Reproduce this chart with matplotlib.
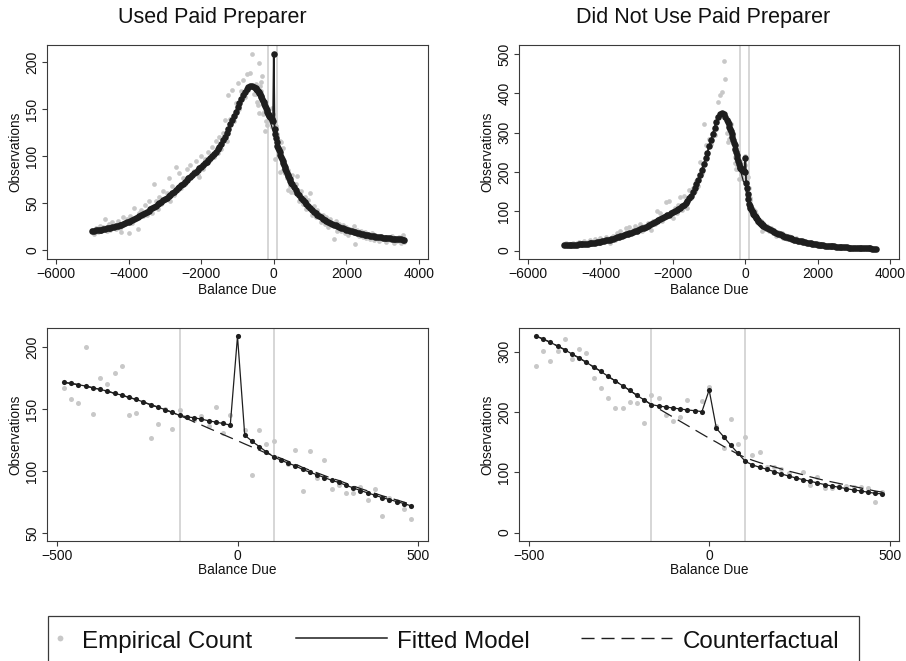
import numpy as np
import matplotlib
matplotlib.use("Agg")
import matplotlib.pyplot as plt
from matplotlib.lines import Line2D
from matplotlib.patches import Rectangle

plt.rcParams['font.family'] = ['Liberation Sans', 'DejaVu Sans']

# ---------------- data ----------------
titles = ["Used Paid Preparer", "Did Not Use Paid Preparer"]
legend_labels = ["Empirical Count", "Fitted Model", "Counterfactual"]
x_label = "Balance Due"
y_label = "Observations"
excluded_region = [-160, 100]

bins_outer_left = np.arange(-5000, -499, 50)     # -5000 .. -500
bins_inner = np.arange(-480, 481, 20)            # -480 .. 480
bins_outer_right = np.arange(500, 3601, 50)      # 500 .. 3600

# --- Used Paid Preparer ---
paid_fit_left = [20.5, 20.8, 21.1, 21.4, 21.7, 22.0, 22.4, 22.8, 23.2, 23.6,
                 24.0, 24.5, 25.0, 25.6, 26.2, 26.8, 27.4, 28.1, 28.8, 29.6,
                 30.5, 31.4, 32.4, 33.4, 34.4, 35.5, 36.6, 37.7, 38.8, 39.9,
                 41.0, 42.3, 43.6, 44.9, 46.2, 47.5, 48.8, 50.1, 51.5, 53.0,
                 54.5, 56.1, 57.7, 59.3, 60.9, 62.5, 64.1, 65.8, 67.5, 69.2,
                 71.0, 72.8, 74.6, 76.4, 78.2, 80.0, 81.8, 83.6, 85.4, 87.2,
                 89.0, 90.8, 92.6, 94.4, 96.2, 98.0, 100.0, 102.3, 104.8, 107.4,
                 110.2, 113.5, 117.0, 120.8, 125.0, 129.5, 134.0, 138.5, 143.0, 147.5,
                 152.0, 156.5, 161.0, 165.0, 168.5, 171.5, 173.8, 175.0, 175.0, 174.0,
                 172.5]
paid_emp_left = [22, 17, 24, 19, 26, 21, 25, 33, 20, 28,
                 22, 30, 27, 23, 31, 24, 19, 35, 28, 33,
                 18, 36, 29, 45, 34, 23, 40, 43, 36, 48,
                 38, 52, 45, 40, 70, 52, 44, 57, 49, 63,
                 55, 61, 77, 52, 68, 59, 89, 64, 82, 66,
                 77, 70, 86, 78, 91, 79, 84, 95, 80, 78,
                 100, 86, 97, 93, 105, 96, 110, 99, 116, 103,
                 121, 108, 125, 139, 116, 165, 140, 171, 137, 157,
                 178, 150, 169, 181, 163, 187, 170, 189, 209, 166,
                 177]
paid_fit_right = [70.0, 66.9, 64.0, 61.2, 58.6, 56.1, 53.7, 51.4, 49.1, 46.9,
                  44.8, 42.9, 41.1, 39.4, 37.8, 36.3, 34.9, 33.6, 32.4, 31.3,
                  30.2, 29.2, 28.2, 27.3, 26.4, 25.5, 24.7, 23.9, 23.2, 22.5,
                  21.8, 21.2, 20.6, 20.0, 19.5, 19.0, 18.5, 18.0, 17.5, 17.1,
                  16.7, 16.3, 15.9, 15.5, 15.2, 14.9, 14.6, 14.3, 14.0, 13.7,
                  13.4, 13.2, 13.0, 12.8, 12.6, 12.4, 12.2, 12.0, 11.8, 11.7,
                  11.5, 11.4, 11.3]
paid_emp_right = [80, 62, 71, 79, 52, 63, 49, 57, 44, 54,
                  61, 38, 47, 35, 43, 39, 30, 37, 28, 35,
                  25, 33, 27, 12, 31, 21, 28, 20, 27, 18,
                  25, 16, 23, 19, 26, 7, 22, 15, 20, 14,
                  19, 13, 17, 12, 18, 11, 16, 14, 10, 15,
                  12, 14, 9, 13, 11, 15, 8, 12, 10, 14,
                  8, 16, 9]
paid_fit_inner = [171.5, 170.6, 169.6, 168.5, 167.1, 165.8, 164.4, 162.6, 161.2, 159.3,
                  157.7, 155.6, 153.4, 151.5, 149.4, 147.2, 144.8, 143.7, 142.9, 141.8,
                  140.5, 139.4, 138.3, 137.0, 208.6, 128.9, 124.0, 119.7, 115.4, 111.4,
                  108.7, 106.3, 104.1, 101.2, 99.0, 96.9, 94.7, 92.5, 90.7, 88.5,
                  86.3, 84.2, 82.3, 80.4, 78.5, 76.9, 75.3, 73.7, 71.8]
paid_cf_inner = [171.5, 170.6, 169.6, 168.5, 167.1, 165.8, 164.4, 162.6, 161.2, 159.3,
                 157.7, 155.6, 153.4, 151.5, 149.4, 147.2, 144.8, 142.2, 139.6, 137.1,
                 134.5, 132.0, 129.4, 126.9, 124.4, 121.8, 119.3, 116.8, 114.3, 112.5,
                 110.2, 107.8, 105.6, 102.8, 100.6, 98.5, 96.3, 94.1, 92.3, 90.1,
                 87.9, 85.8, 83.9, 81.9, 80.0, 78.3, 76.6, 74.9, 72.9]
paid_emp_inner = [166.6, 157.7, 154.8, 199.7, 145.6, 174.7, 169.8, 178.7, 184.9, 144.8,
                  146.7, 155.5, 126.8, 137.8, 150.0, 133.8, 148.8, 143.5, 141.0, 144.5,
                  136.5, 151.8, 130.8, 145.0, 209.0, 132.7, 96.9, 132.7, 121.6, 123.8,
                  109.0, 106.0, 116.5, 83.7, 115.7, 94.5, 108.7, 85.8, 88.5, 81.8,
                  82.6, 87.2, 76.7, 85.6, 63.8, 78.3, 76.0, 68.9, 61.6]

# --- Did Not Use Paid Preparer ---
self_fit_left = [13.5, 13.7, 13.9, 14.1, 14.3, 14.6, 14.9, 15.2, 15.5, 15.8,
                 16.2, 16.7, 17.2, 17.7, 18.3, 18.9, 19.5, 20.2, 20.9, 21.7,
                 22.5, 23.5, 24.5, 25.6, 26.8, 28.0, 29.3, 30.6, 32.0, 33.5,
                 35.0, 36.5, 38.0, 39.5, 41.0, 42.6, 44.2, 45.8, 47.4, 49.0,
                 50.7, 52.6, 54.5, 56.5, 58.5, 60.6, 62.8, 65.0, 67.3, 69.6,
                 72.0, 74.4, 76.8, 79.2, 81.7, 84.2, 86.7, 89.2, 91.7, 94.3,
                 97.0, 99.8, 102.7, 105.7, 108.8, 112.2, 116.0, 120.5, 126.0, 132.5,
                 140.0, 148.5, 158.0, 168.5, 180.0, 192.5, 206.0, 220.0, 234.5, 249.0,
                 265.0, 281.0, 297.0, 313.0, 328.0, 340.0, 347.5, 350.0, 347.0, 340.0,
                 332.0]
self_emp_left = [15, 19, 12, 17, 14, 20, 13, 18, 22, 14,
                 19, 24, 16, 21, 26, 17, 23, 29, 19, 25,
                 31, 21, 28, 35, 24, 18, 33, 38, 27, 44,
                 31, 49, 36, 42, 57, 39, 60, 44, 52, 62,
                 46, 57, 68, 51, 63, 58, 70, 61, 52, 75,
                 68, 101, 79, 96, 74, 88, 124, 92, 126, 94,
                 84, 108, 96, 115, 137, 104, 140, 112, 107, 155,
                 133, 160, 152, 178, 165, 226, 197, 321, 268, 243,
                 283, 270, 300, 294, 309, 378, 395, 404, 481, 437,
                 300]
self_fit_right = [63.0, 60.0, 57.2, 54.5, 52.0, 49.6, 47.3, 45.1, 43.0, 41.0,
                  39.1, 37.3, 35.6, 33.9, 32.3, 30.8, 29.4, 28.0, 26.7, 25.5,
                  24.3, 23.2, 22.1, 21.1, 20.1, 19.2, 18.3, 17.5, 16.7, 16.0,
                  15.3, 14.6, 14.0, 13.4, 12.8, 12.3, 11.8, 11.3, 10.8, 10.4,
                  10.0, 9.6, 9.2, 8.9, 8.6, 8.3, 8.0, 7.7, 7.5, 7.2,
                  7.0, 6.8, 6.6, 6.4, 6.2, 6.0, 5.8, 5.7, 5.5, 5.4,
                  5.2, 5.1, 5.0]
self_emp_right = [70, 55, 62, 50, 58, 44, 52, 38, 47, 36,
                  44, 33, 40, 29, 36, 27, 33, 25, 31, 22,
                  28, 20, 25, 19, 23, 16, 21, 15, 19, 13,
                  18, 12, 17, 11, 15, 10, 14, 9, 13, 8,
                  12, 9, 11, 7, 10, 6, 10, 6, 9, 5,
                  8, 6, 8, 4, 7, 5, 7, 4, 6, 3,
                  6, 4, 5]
self_fit_inner = [326.0, 321.0, 315.5, 309.4, 303.3, 296.1, 289.5, 282.3, 274.6, 267.4,
                  259.1, 251.4, 243.6, 235.9, 227.6, 219.9, 212.2, 210.0, 208.3, 206.6,
                  205.0, 203.3, 202.2, 200.6, 236.5, 172.9, 159.1, 144.8, 131.5, 118.2,
                  112.2, 108.3, 105.0, 101.1, 97.2, 93.9, 90.6, 87.8, 85.1, 82.3,
                  79.6, 77.3, 75.1, 72.9, 70.7, 69.1, 66.9, 65.2, 64.1]
self_cf_inner = [326.0, 321.0, 315.5, 309.4, 303.3, 296.1, 289.5, 282.3, 274.6, 267.4,
                 259.1, 251.4, 243.6, 235.9, 227.6, 219.9, 212.2, 205.5, 198.5, 191.5,
                 184.5, 177.5, 170.5, 163.5, 156.5, 150.0, 143.0, 136.5, 130.0, 124.5,
                 120.0, 116.0, 112.5, 109.0, 105.5, 102.0, 99.0, 96.0, 92.5, 89.5,
                 86.5, 84.0, 81.5, 79.0, 76.5, 74.0, 71.5, 69.0, 67.0]
self_emp_inner = [276.8, 301.1, 284.0, 301.7, 321.0, 287.8, 305.0, 297.8, 256.9, 239.2,
                  223.8, 207.2, 207.2, 216.6, 214.4, 181.8, 228.7, 223.8, 194.5, 184.5,
                  191.7, 219.9, 202.0, 218.8, 240.9, 176.0, 140.3, 187.8, 147.0, 158.6,
                  129.3, 133.7, 108.0, 109.4, 105.0, 98.3, 91.0, 101.1, 79.0, 92.8,
                  73.5, 74.6, 78.0, 77.9, 76.2, 76.0, 74.6, 50.8, 68.0]

# ---------------- style ----------------
GREY = "#c8c8c8"
VLINE = "#cfcfcf"
DARK = "#1e1e1e"
FRAME = "#3a3a3a"
W, H = 906, 661

fig = plt.figure(figsize=(W / 100, H / 100), dpi=100)


def add_ax(l, t, r, b):
    return fig.add_axes([l / W, 1 - b / H, (r - l) / W, (b - t) / H])


def style(ax, xlim, ylim, xticks, yticks):
    ax.set_xlim(*xlim)
    ax.set_ylim(*ylim)
    ax.set_xticks(xticks)
    ax.set_yticks(yticks)
    for s in ax.spines.values():
        s.set_color(FRAME)
        s.set_linewidth(0.8)
    ax.tick_params(axis='both', direction='out', length=3.4, width=0.8,
                   color=FRAME, labelsize=10, labelcolor="#111111")
    ax.tick_params(axis='x', pad=2.0)
    ax.tick_params(axis='y', pad=2.3, labelrotation=90)
    plt.setp(ax.get_yticklabels(), va='center')
    ax.set_xlabel(x_label, fontsize=9.8, color="#111111", va='center')
    ax.set_ylabel(y_label, fontsize=9.8, color="#111111", va='center')


def draw(ax, x, emp, fit, cf, ms_fit, ms_emp, lw_fit):
    for xv in excluded_region:
        ax.axvline(xv, color=VLINE, lw=1.2, zorder=1)
    ax.plot(x, emp, 'o', color=GREY, ms=ms_emp, mec='none', zorder=2)
    ax.plot(x, cf, color=DARK, lw=0.9, dashes=(11, 5.5), zorder=3)
    ax.plot(x, fit, '-o', color=DARK, lw=lw_fit, ms=ms_fit, mec='none', zorder=4)


x_top = np.concatenate([bins_outer_left, bins_inner, bins_outer_right])

panels = [
    (paid_fit_left, paid_emp_left, paid_fit_inner, paid_cf_inner, paid_emp_inner,
     paid_fit_right, paid_emp_right),
    (self_fit_left, self_emp_left, self_fit_inner, self_cf_inner, self_emp_inner,
     self_fit_right, self_emp_right),
]

top_boxes = [(47.3, 44.7, 427.7, 259.3), (519.3, 44.7, 899, 259.2)]
top_ylims = [(-9.6, 218.7), (-22, 523.7)]
top_yticks = [[0, 50, 100, 150, 200], [0, 100, 200, 300, 400, 500]]
bot_boxes = [(47.3, 327.7, 427.7, 541.2), (519.3, 327.7, 899, 541.2)]
bot_ylims = [(43.3, 215.6), (-14.3, 339.8)]
bot_yticks = [[50, 100, 150, 200], [0, 100, 200, 300]]

for i, p in enumerate(panels):
    fl, el, fi, ci, ei, fr, er = p
    fit_top = np.concatenate([fl, fi, fr])
    cf_top = np.concatenate([fl, ci, fr])
    emp_top = np.concatenate([el, ei, er])

    ax = add_ax(*top_boxes[i])
    draw(ax, x_top, emp_top, fit_top, cf_top, ms_fit=4.7, ms_emp=3.4, lw_fit=1.3)
    style(ax, (-6240, 4240), top_ylims[i], [-6000, -4000, -2000, 0, 2000, 4000], top_yticks[i])
    l, t, r, b = top_boxes[i]
    ax.yaxis.set_label_coords(-32.3 / (r - l), 0.5)
    ax.xaxis.set_label_coords(0.5, -(289.5 - b) / (b - t))

    ax2 = add_ax(*bot_boxes[i])
    draw(ax2, bins_inner, ei, fi, ci, ms_fit=3.7, ms_emp=3.6, lw_fit=0.9)
    style(ax2, (-526, 526), bot_ylims[i], [-500, 0, 500], bot_yticks[i])
    l, t, r, b = bot_boxes[i]
    ax2.yaxis.set_label_coords(-32.3 / (r - l), 0.5)
    ax2.xaxis.set_label_coords(0.5, -(570 - b) / (b - t))

# titles
fig.text(212 / W, 1 - 17 / H, titles[0], ha='center', va='center', fontsize=15.5, color="#111111")
fig.text(703 / W, 1 - 17 / H, titles[1], ha='center', va='center', fontsize=15.5, color="#111111")

# legend (drawn at figure level, box continues past bottom edge)
fig.add_artist(Rectangle((48 / W, 1 - 668 / H), 811 / W, 52 / H, transform=fig.transFigure,
                         fill=False, edgecolor=FRAME, lw=0.9, clip_on=False))
ly = 1 - 638.3 / H
lb = 1 - 648 / H
fig.add_artist(Line2D([60 / W], [ly], transform=fig.transFigure, marker='o', ms=4.2,
                      color=GREY, mec='none', linestyle='none'))
fig.text(82 / W, lb, legend_labels[0], ha='left', va='baseline', fontsize=17.4, color="#111111")
fig.add_artist(Line2D([296 / W, 387 / W], [ly, ly], transform=fig.transFigure,
                      color=DARK, lw=1.1))
fig.text(397 / W, lb, legend_labels[1], ha='left', va='baseline', fontsize=17.4, color="#111111")
fig.add_artist(Line2D([581 / W, 672 / W], [ly, ly], transform=fig.transFigure,
                      color=DARK, lw=1.0, dashes=(9.4, 5)))
fig.text(683 / W, lb, legend_labels[2], ha='left', va='baseline', fontsize=17.4, color="#111111")

fig.savefig("out.png", dpi=100, facecolor="white")
